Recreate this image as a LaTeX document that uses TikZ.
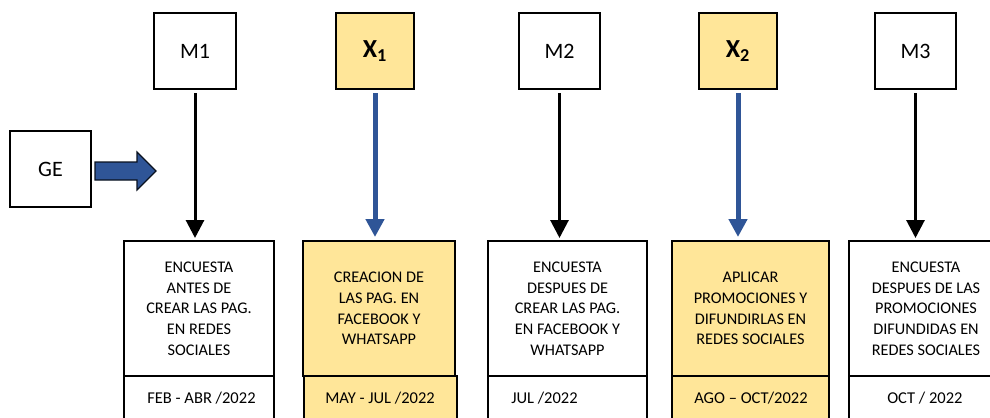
\documentclass[tikz,border=0pt]{standalone}
\usepackage{fontspec}
\setmainfont{Carlito}
\usetikzlibrary{arrows.meta}
\definecolor{ylw}{HTML}{FFE699}
\definecolor{blu}{HTML}{2F5597}
\begin{document}
\begin{tikzpicture}[x=0.75pt,y=-0.75pt,
  topbox/.style={draw=black,line width=1.5pt,inner sep=0pt,minimum height=57pt,font=\fontsize{16.5}{19}\selectfont},
  xbox/.style={topbox,fill=ylw,font=\fontsize{19.5}{22}\selectfont\bfseries},
  upbox/.style={draw=black,line width=1.5pt,inner sep=0pt,minimum height=101.25pt,align=center,font=\fontsize{12.2}{15.5}\selectfont},
  lowbox/.style={draw=black,line width=1.5pt,inner sep=0pt,minimum height=33pt},
  datetxt/.style={anchor=west,inner sep=0pt,font=\fontsize{12.4}{14}\selectfont},
  blackarrow/.style={line width=2.25pt,-{Triangle[width=13.5pt,length=13.5pt]},shorten <=2.25pt,shorten >=1.5pt},
  bluearrow/.style={draw=blu,line width=3.75pt,-{Triangle[width=13.5pt,length=13.5pt]},shorten <=2.25pt,shorten >=2.25pt}]
\useasboundingbox (0,0) rectangle (990,418);
\clip (0,0) rectangle (990,418);
% top boxes
\node[topbox,minimum width=61.5pt] (M1) at (195,51) {M1};
\node[xbox,minimum width=58.5pt] (X1) at (375,51) {X\textsubscript{1}};
\node[topbox,minimum width=60.75pt] (M2) at (559.5,51) {M2};
\node[xbox,minimum width=58.5pt] (X2) at (738,51) {X\textsubscript{2}};
\node[topbox,minimum width=60.75pt] (M3) at (915.5,51) {M3};
\node[topbox,minimum width=60.75pt] (GE) at (50.5,169) {GE};
% block arrow
\draw[fill=blu,draw=black!80!blu,line width=0.9pt] (95,162) -- (137,162) -- (137,152) -- (156,171) -- (137,190) -- (137,180) -- (95,180) -- cycle;
% bottom upper boxes
\node[upbox,minimum width=112.5pt] (b1) at (199,308.5) {ENCUESTA\\ANTES DE\\CREAR LAS PAG.\\EN REDES\\SOCIALES};
\node[upbox,fill=ylw,minimum width=114pt] (b2) at (379,308.5) {CREACION DE\\LAS PAG. EN\\FACEBOOK Y\\WHATSAPP};
\node[upbox,minimum width=119.25pt] (b3) at (567.5,308.5) {ENCUESTA\\DESPUES DE\\CREAR LAS PAG.\\EN FACEBOOK Y\\WHATSAPP};
\node[upbox,fill=ylw,minimum width=117.75pt] (b4) at (750.5,308.5) {APLICAR\\PROMOCIONES Y\\DIFUNDIRLAS EN\\REDES SOCIALES};
\node[upbox,minimum width=115.5pt] (b5) at (926,308.5) {ENCUESTA\\DESPUES DE LAS\\PROMOCIONES\\DIFUNDIDAS EN\\REDES SOCIALES};
% bottom lower boxes
\node[lowbox,minimum width=112.5pt] (d1) at (199,398) {};
\node[lowbox,fill=ylw,minimum width=114.75pt] (d2) at (380.5,398) {};
\node[lowbox,minimum width=119.25pt] (d3) at (567.5,398) {};
\node[lowbox,fill=ylw,minimum width=117.75pt] (d4) at (750.5,398) {};
\node[lowbox,minimum width=115.5pt] (d5) at (926,398) {};
\node[datetxt] (t1) at (147,398) {FEB - ABR /2022};
\node[datetxt] (t2) at (325,398) {MAY - JUL /2022};
\node[datetxt] (t3) at (511,398) {JUL /2022};
\node[datetxt] (t4) at (694,398) {AGO – OCT/2022};
\node[datetxt] (t5) at (887,398) {OCT / 2022};
% connectors
\draw[blackarrow] (M1.south) -- (b1.north -| M1.south);
\draw[bluearrow] (X1.south) -- (b2.north -| X1.south);
\draw[blackarrow] (M2.south) -- (b3.north -| M2.south);
\draw[bluearrow] (X2.south) -- (b4.north -| X2.south);
\draw[blackarrow] (M3.south) -- (b5.north -| M3.south);
\end{tikzpicture}
\end{document}
